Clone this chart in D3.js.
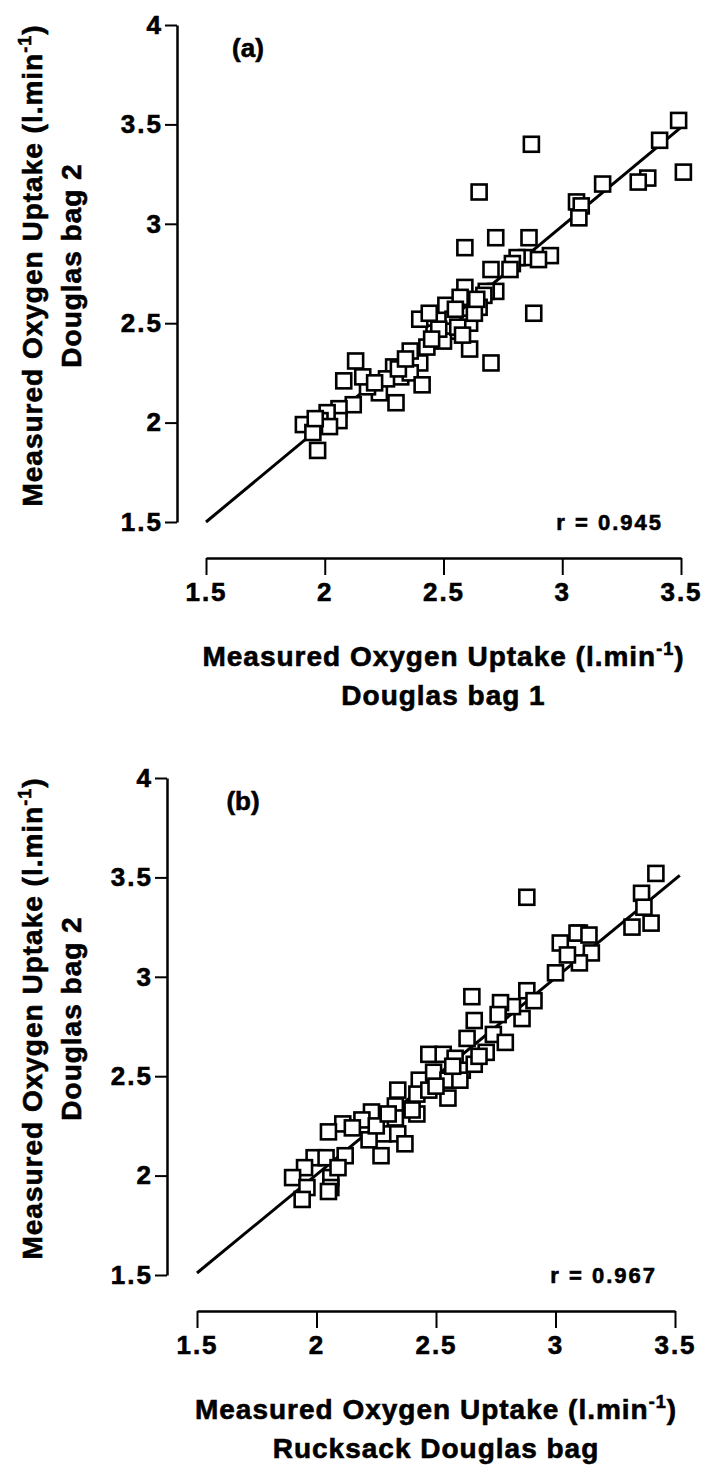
<!DOCTYPE html>
<html>
<head>
<meta charset="utf-8">
<script src="https://cdn.jsdelivr.net/npm/d3@7"></script>
<style>
  body { margin: 0; background: #fff; }
  text { font-family: "Liberation Sans", Arial, sans-serif; font-weight: bold; fill: #000; stroke: #000; stroke-width: 0.6px; }
</style>
</head>
<body>
<svg id="chart" width="722" height="1474"></svg>
<script>
// axis ticks
const xTicks = [1.5, 2, 2.5, 3, 3.5];
const yTicks = [1.5, 2, 2.5, 3, 3.5, 4];

// (a) Douglas bag 1 vs Douglas bag 2
const pointsA = [
  [3.49,3.52],[3.41,3.42],[3.51,3.26],[3.36,3.23],[3.32,3.21],[3.17,3.20],[2.87,3.40],[2.65,3.16],
  [3.06,3.11],[3.08,3.09],[3.07,3.03],[2.59,2.88],[2.72,2.93],[2.86,2.93],[2.95,2.84],[2.85,2.83],
  [2.81,2.83],[2.90,2.82],[2.79,2.80],[2.78,2.77],[2.70,2.77],[2.59,2.68],[2.72,2.66],[2.68,2.66],
  [2.67,2.64],[2.88,2.55],[2.70,2.30],[2.61,2.37],[2.65,2.58],[2.51,2.59],[2.57,2.63],[2.54,2.52],
  [2.61,2.50],[2.53,2.46],[2.46,2.45],[2.40,2.52],[2.50,2.41],[2.43,2.38],[2.40,2.30],[2.36,2.36],
  [2.32,2.23],[2.29,2.28],[2.36,2.25],[2.41,2.19],[2.30,2.10],[2.23,2.15],[2.18,2.18],[2.13,2.31],
  [2.16,2.23],[2.08,2.21],[2.12,2.09],[2.06,2.07],[2.06,2.01],[2.01,2.05],[1.98,2.01],[1.91,1.99],
  [1.95,1.95],[1.97,1.86],[2.63,2.55],[2.56,2.48],[2.48,2.47],[2.45,2.42],[2.55,2.57],[2.64,2.62],
  [2.26,2.22],[2.31,2.27],[2.34,2.32],[2.02,1.98],[1.96,2.02],[2.21,2.20],[2.44,2.55],[2.58,2.44]
];

// (b) Rucksack Douglas bag vs Douglas bag 2
const pointsB = [
  [2.88,3.40],[3.42,3.52],[3.36,3.42],[3.37,3.35],[3.40,3.27],[3.32,3.25],[3.10,3.22],[3.02,3.17],
  [3.09,3.22],[3.14,3.21],[3.15,3.12],[3.10,3.07],[3.05,3.11],[3.00,3.02],[2.88,2.93],[2.91,2.88],
  [2.86,2.79],[2.82,2.85],[2.77,2.87],[2.76,2.81],[2.65,2.90],[2.66,2.78],[2.63,2.69],[2.74,2.71],
  [2.79,2.67],[2.71,2.62],[2.47,2.61],[2.53,2.61],[2.58,2.59],[2.61,2.53],[2.43,2.48],[2.49,2.52],
  [2.55,2.48],[2.60,2.48],[2.42,2.41],[2.47,2.43],[2.55,2.39],[2.42,2.31],[2.34,2.43],[2.33,2.35],
  [2.33,2.29],[2.23,2.32],[2.19,2.28],[2.11,2.26],[2.05,2.22],[2.28,2.21],[2.34,2.21],[2.22,2.18],
  [2.37,2.16],[2.27,2.10],[2.12,2.10],[1.99,2.09],[2.04,2.09],[1.95,2.04],[1.90,1.99],[2.06,1.99],
  [1.96,1.94],[2.06,1.94],[2.09,2.04],[1.94,1.88],[2.05,1.92],[2.40,2.33],[2.50,2.45],[2.57,2.55],
  [2.66,2.56],[2.68,2.60],[2.25,2.25],[2.15,2.24],[2.30,2.31]
];

// regression lines (end points)
const fitA = [[1.5,1.5],[3.5,3.485]];
const fitB = [[1.5,1.51],[3.52,3.51]];

const svg = d3.select("#chart");

function styleAxis(ax) {
  ax.select(".domain").attr("stroke", "#000").attr("stroke-width", 2.5);
  ax.selectAll(".tick line").attr("stroke", "#000").attr("stroke-width", 2);
  ax.selectAll(".tick text")
    .attr("font-size", 26).attr("font-family", "Liberation Sans, Arial, sans-serif")
    .attr("font-weight", "bold").style("letter-spacing", "2px");
}

function drawPanel(p) {
  const x = d3.scaleLinear().domain([1.5, 3.5]).range([p.x0, p.x1]);
  const y = d3.scaleLinear().domain([1.5, 4]).range([p.yBottom, p.yTop]);
  const g = svg.append("g");

  // y axis (offset to the left)
  const yAxis = g.append("g")
    .attr("transform", `translate(${p.yAxisX},0)`)
    .call(d3.axisLeft(y).tickValues(yTicks).tickFormat(d3.format("")).tickSize(12).tickSizeOuter(0).tickPadding(2));
  styleAxis(yAxis);

  // x axis (dropped below)
  const xAxis = g.append("g")
    .attr("transform", `translate(0,${p.xAxisY})`)
    .call(d3.axisBottom(x).tickValues(xTicks).tickFormat(d3.format("")).tickSize(17).tickSizeOuter(0).tickPadding(8));
  styleAxis(xAxis);

  // regression line
  g.append("line")
    .attr("x1", x(p.fit[0][0])).attr("y1", y(p.fit[0][1]))
    .attr("x2", x(p.fit[1][0])).attr("y2", y(p.fit[1][1]))
    .attr("stroke", "#000").attr("stroke-width", 3);

  // open squares
  const s = 15;
  g.selectAll("rect.pt").data(p.points).enter().append("rect")
    .attr("class", "pt")
    .attr("x", d => x(d[0]) - s / 2).attr("y", d => y(d[1]) - s / 2)
    .attr("width", s).attr("height", s)
    .attr("fill", "#fff").attr("stroke", "#000").attr("stroke-width", 2.6);

  // panel letter
  g.append("text").attr("x", p.letterX).attr("y", y(4) + 32)
    .attr("text-anchor", "middle").attr("font-size", 26).text(p.letter);

  // correlation
  g.append("text").attr("x", x(3.5) - 18).attr("y", y(1.5) + 8)
    .attr("text-anchor", "end").attr("font-size", 22).style("letter-spacing", "2px").text(p.r);

  // x title
  const xt = g.append("text").attr("text-anchor", "middle").attr("font-size", 28)
    .style("letter-spacing", "1px")
    .attr("transform", `translate(${(p.x0 + p.x1) / 2},${p.xAxisY + 108})`);
  titleLine(xt, p.xTitle2);

  // y title
  const yt = g.append("text").attr("text-anchor", "middle").attr("font-size", 28)
    .style("letter-spacing", "1px")
    .attr("transform", `translate(42,${(y(4) + y(1.5)) / 2 - 8}) rotate(-90)`);
  titleLine(yt, p.yTitle2);
}

function titleLine(t, second) {
  t.append("tspan").attr("x", 0).attr("dy", 0).text("Measured Oxygen Uptake (l.min");
  t.append("tspan").attr("font-size", 18).attr("dy", -11).text("-1");
  t.append("tspan").attr("dy", 11).text(")");
  t.append("tspan").attr("x", 0).attr("dy", 39).text(second);
}

drawPanel({
  x0: 206, x1: 681, yTop: 25, yBottom: 522, yAxisX: 177, xAxisY: 558,
  points: pointsA, fit: fitA, letter: "(a)", letterX: 248, r: "r = 0.945",
  xTitle2: "Douglas bag 1", yTitle2: "Douglas bag 2"
});
drawPanel({
  x0: 197, x1: 675, yTop: 778, yBottom: 1275, yAxisX: 167, xAxisY: 1311,
  points: pointsB, fit: fitB, letter: "(b)", letterX: 243, r: "r = 0.967",
  xTitle2: "Rucksack Douglas bag", yTitle2: "Douglas bag 2"
});
</script>
</body>
</html>
